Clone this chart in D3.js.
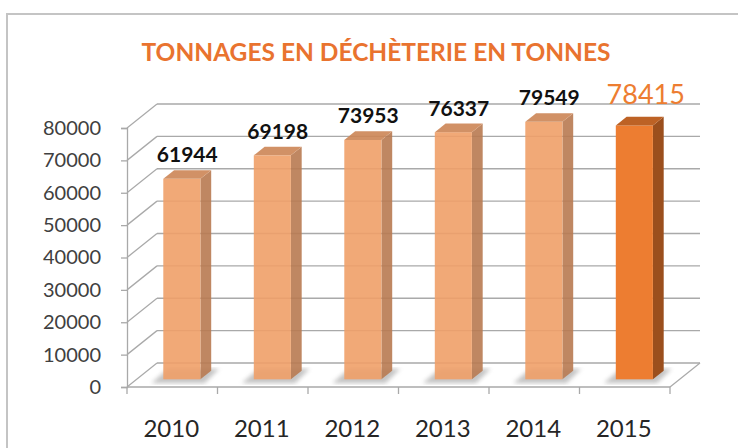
<!doctype html>
<html>
<head>
  <meta charset="utf-8">
  <script src="https://cdnjs.cloudflare.com/ajax/libs/d3/7.8.5/d3.min.js"></script>
  <style>
    body { margin: 0; background: #fff; }
    svg { display: block; }
  </style>
</head>
<body>
  <svg id="chart" width="738" height="448"></svg>
  <script>
// chart data
var years = ["2010", "2011", "2012", "2013", "2014", "2015"];
var tonnages = [61944, 69198, 73953, 76337, 79549, 78415];
var yTicks = [0, 10000, 20000, 30000, 40000, 50000, 60000, 70000, 80000];
var highlightYear = "2015";

var svg = d3.select("#chart");

// front plane of the 3d box, and depth offset of the back wall
var plotL = 127, plotR = 670, plotB = 387, plotT = 128;
var DX = 30, DY = -24;
var d0 = 0.32, dDepth = 0.36;   // bar front face depth, bar thickness

var x = d3.scaleBand().domain(years).range([plotL, plotR]);
var y = d3.scaleLinear().domain([0, 80000]).range([plotB, plotT]);
var barW = x.bandwidth() * 0.41;

var grid = "#a9a9a9";

// outer frame
svg.append("rect")
  .attr("x", 7).attr("y", 14)
  .attr("width", 760).attr("height", 460)
  .attr("fill", "none")
  .attr("stroke", "#c4c4c4")
  .attr("stroke-width", 2);

// title
svg.append("text")
  .attr("x", 376).attr("y", 61)
  .attr("text-anchor", "middle")
  .style("font-family", "Lato, 'Open Sans', sans-serif")
  .style("font-weight", "bold")
  .style("font-size", "24.5px")
  .style("fill", "#e9732f")
  .text("TONNAGES EN DÉCHÈTERIE EN TONNES");

// back wall + side wall gridlines
var g = svg.append("g");
yTicks.forEach(t => {
  g.append("line")
    .attr("x1", plotL + DX).attr("y1", y(t) + DY)
    .attr("x2", plotR + DX).attr("y2", y(t) + DY)
    .attr("stroke", grid).attr("stroke-width", 1.3);
  g.append("line")
    .attr("x1", plotL).attr("y1", y(t))
    .attr("x2", plotL + DX).attr("y2", y(t) + DY)
    .attr("stroke", grid).attr("stroke-width", 1.3);
});
// floor edges
g.append("line")
  .attr("x1", plotL).attr("y1", plotB).attr("x2", plotR).attr("y2", plotB)
  .attr("stroke", grid).attr("stroke-width", 1.3);
g.append("line")
  .attr("x1", plotR).attr("y1", plotB).attr("x2", plotR + DX).attr("y2", plotB + DY)
  .attr("stroke", grid).attr("stroke-width", 1.3);

// y axis
var yAxis = d3.axisLeft(y).tickValues(yTicks).tickSize(6).tickPadding(20).tickFormat(d3.format("d"));
var ya = svg.append("g").attr("transform", "translate(" + plotL + ",0)").call(yAxis);
ya.select(".domain").attr("stroke", grid).attr("stroke-width", 1.3);
ya.selectAll(".tick line").attr("stroke", grid).attr("stroke-width", 1.3);
ya.selectAll(".tick text")
  .style("font-family", "Lato, sans-serif")
  .style("font-size", "20px")
  .style("fill", "#404040");

// x axis ticks at band edges
var edges = years.map(d => x(d)).concat([plotR]);
svg.selectAll(".xtick").data(edges).enter().append("line")
  .attr("class", "xtick")
  .attr("x1", d => d).attr("x2", d => d)
  .attr("y1", plotB).attr("y2", plotB + 7)
  .attr("stroke", grid).attr("stroke-width", 1.3);

svg.selectAll(".year").data(years).enter().append("text")
  .attr("class", "year")
  .attr("x", d => x(d) + x.bandwidth() / 2 - 1)
  .attr("y", 437)
  .attr("text-anchor", "middle")
  .style("font-family", "Lato, sans-serif")
  .style("font-size", "24px")
  .style("fill", "#262626")
  .text(d => d);

// bars
var bars = years.map((yr, i) => {
  var bx = x(yr) + (x.bandwidth() - barW) / 2 + d0 * DX;
  return {year: yr, value: tonnages[i], bx: bx,
          top: y(tonnages[i]) + d0 * DY, base: plotB + d0 * DY};
});
var ddx = dDepth * DX, ddy = dDepth * DY;

var defs = svg.append("defs");
defs.append("filter").attr("id", "blur").append("feGaussianBlur").attr("stdDeviation", 2.2);

var pts = a => a.map(p => p.join(",")).join(" ");

// floor shadows, a little down-left of each footprint
svg.selectAll(".shadow").data(bars).enter().append("polygon")
  .attr("class", "shadow")
  .attr("points", b => pts([[b.bx - 12, b.base + 4], [b.bx + barW + 4, b.base + 4],
                            [b.bx + barW + ddx + 8, b.base + ddy - 2], [b.bx + ddx - 6, b.base + ddy - 2]]))
  .attr("fill", "#8a8a8a").attr("opacity", 0.5)
  .attr("filter", "url(#blur)");

var colors = yr => yr === highlightYear
  ? {front: "#ed7d31", side: "#9b4f1d", top: "#bd6225", alpha: 1}
  : {front: "#f0a069", side: "#b97b52", top: "#cd8656", alpha: 0.9};

var bg = svg.selectAll(".bar").data(bars).enter().append("g")
  .attr("class", "bar")
  .attr("opacity", b => colors(b.year).alpha);
bg.append("polygon")
  .attr("points", b => pts([[b.bx + barW, b.top], [b.bx + barW + ddx, b.top + ddy],
                            [b.bx + barW + ddx, b.base + ddy], [b.bx + barW, b.base]]))
  .attr("fill", b => colors(b.year).side);
bg.append("rect")
  .attr("x", b => b.bx).attr("y", b => b.top)
  .attr("width", barW).attr("height", b => b.base - b.top)
  .attr("fill", b => colors(b.year).front);
bg.append("polygon")
  .attr("points", b => pts([[b.bx, b.top], [b.bx + ddx, b.top + ddy],
                            [b.bx + barW + ddx, b.top + ddy], [b.bx + barW, b.top]]))
  .attr("fill", b => colors(b.year).top);

// value labels
svg.selectAll(".val").data(bars).enter().append("text")
  .attr("class", "val")
  .attr("x", b => b.bx + barW / 2 + ddx / 2 + (b.year === highlightYear ? 6 : 0))
  .attr("y", b => b.top + ddy - (b.year === highlightYear ? 13 : 8))
  .attr("text-anchor", "middle")
  .style("font-family", "Lato, sans-serif")
  .style("font-weight", b => b.year === highlightYear ? "normal" : "bold")
  .style("font-size", b => b.year === highlightYear ? "27px" : "21px")
  .style("fill", b => b.year === highlightYear ? "#ed7d31" : "#111")
  .text(b => b.value);
  </script>
</body>
</html>
